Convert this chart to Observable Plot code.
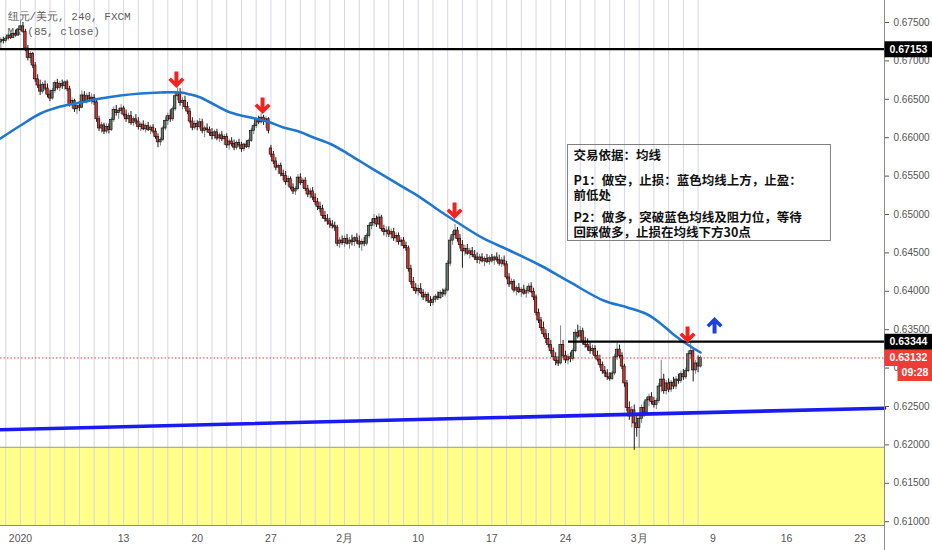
<!DOCTYPE html>
<html><head><meta charset="utf-8">
<script src="https://cdn.jsdelivr.net/npm/d3@7"></script>
<script src="https://cdn.jsdelivr.net/npm/@observablehq/plot@0.6"></script>
<style>
html,body{margin:0;padding:0;background:#fff;}
#chart svg{display:block;}
</style></head><body><div id="chart"></div>
<script>
// ---- 4h candles [open, high, low, close] in units of 0.0001, grouped by week ----
const wk0 = [
[6724,6730,6714,6727],[6727,6731,6722,6726],
[6726,6732,6723,6729],[6729,6735,6726,6733],[6733,6736,6728,6730],[6730,6737,6729,6735],[6735,6740,6731,6733],[6733,6742,6732,6740],
[6740,6753,6738,6745],[6745,6750,6736,6738],[6738,6741,6712,6716],[6716,6720,6700,6704],[6704,6712,6697,6709],[6709,6711,6690,6694],
[6694,6698,6672,6676],[6676,6682,6664,6668],[6668,6675,6655,6660],[6660,6672,6657,6669],[6669,6674,6661,6664],[6664,6670,6652,6656]];
const wk1 = [
[6656,6662,6647,6651],[6651,6664,6649,6661],[6661,6674,6658,6671],[6671,6676,6662,6665],[6665,6673,6660,6670],[6670,6675,6663,6667],
[6667,6674,6662,6672],[6672,6675,6660,6663],[6663,6667,6640,6644],[6644,6652,6638,6648],[6648,6650,6633,6637],[6637,6645,6630,6641],
[6641,6647,6634,6639],[6639,6661,6638,6655],[6655,6660,6645,6648],[6648,6658,6644,6654],[6654,6659,6646,6650],[6650,6657,6643,6652],
[6652,6656,6642,6646],[6646,6650,6620,6624],[6624,6628,6608,6612],[6612,6620,6606,6616],[6616,6619,6604,6608],[6608,6618,6605,6614],
[6614,6618,6605,6610],[6610,6626,6608,6623],[6623,6640,6620,6636],[6636,6642,6628,6632],[6632,6638,6624,6635],[6635,6643,6630,6638]];
const wk2 = [
[6638,6641,6627,6630],[6630,6636,6620,6624],[6624,6632,6618,6628],[6628,6634,6616,6619],[6619,6627,6615,6624],[6624,6630,6617,6621],
[6621,6626,6610,6614],[6614,6620,6608,6617],[6617,6622,6609,6611],[6611,6618,6606,6615],[6615,6620,6608,6610],[6610,6616,6604,6613],
[6613,6617,6605,6608],[6608,6612,6598,6601],[6601,6605,6587,6594],[6594,6600,6589,6597],[6597,6615,6595,6612],[6612,6626,6609,6622],
[6622,6632,6616,6628],[6628,6636,6620,6624],[6624,6640,6621,6637],[6637,6658,6634,6654],[6654,6665,6648,6658],[6658,6664,6641,6645],
[6645,6652,6636,6648],[6648,6654,6637,6640],[6640,6646,6630,6634],[6634,6638,6618,6621],[6621,6626,6609,6613],[6613,6622,6610,6618]];
const wk3 = [
[6618,6622,6609,6614],[6614,6625,6611,6620],[6620,6624,6605,6609],[6609,6615,6600,6612],[6612,6618,6606,6610],[6610,6614,6602,6606],
[6606,6612,6597,6602],[6602,6610,6598,6607],[6607,6611,6596,6599],[6599,6606,6594,6603],[6603,6608,6595,6598],[6598,6604,6590,6601],
[6601,6605,6586,6590],[6590,6598,6584,6595],[6595,6600,6588,6592],[6592,6597,6583,6587],[6587,6596,6584,6593],[6593,6598,6587,6590],
[6590,6594,6581,6585],[6585,6593,6582,6591],[6591,6596,6586,6588],[6588,6598,6585,6596],[6596,6612,6594,6609],[6609,6618,6604,6615],
[6615,6626,6612,6623],[6623,6628,6617,6620],[6620,6631,6618,6626],[6626,6629,6616,6621],[6621,6627,6612,6624],[6624,6626,6605,6609]];
const wk4 = [
[6586,6590,6574,6578],[6578,6582,6565,6569],[6569,6574,6557,6561],[6561,6566,6552,6563],[6563,6567,6549,6553],[6553,6558,6544,6550],
[6550,6556,6538,6542],[6542,6550,6536,6546],[6546,6549,6532,6535],[6535,6540,6526,6530],[6530,6536,6525,6533],[6533,6552,6531,6548],
[6548,6553,6538,6541],[6541,6547,6534,6544],[6544,6548,6530,6533],[6533,6538,6522,6526],[6526,6534,6520,6530],[6530,6535,6518,6522],
[6522,6527,6512,6516],[6516,6521,6505,6510],[6510,6516,6502,6507],[6507,6512,6494,6498],[6498,6504,6490,6494],[6494,6500,6486,6491],
[6491,6495,6482,6487],[6487,6492,6481,6485],[6485,6490,6478,6483],[6483,6486,6458,6462],[6462,6470,6456,6466],[6466,6472,6460,6463]];
const wk5 = [
[6463,6472,6457,6468],[6468,6474,6460,6462],[6462,6470,6455,6466],[6466,6473,6459,6464],[6464,6471,6458,6469],[6469,6475,6461,6465],
[6465,6472,6456,6461],[6461,6468,6452,6464],[6464,6470,6458,6462],[6462,6475,6459,6472],[6472,6488,6469,6485],[6485,6494,6480,6489],
[6489,6500,6484,6494],[6494,6498,6483,6487],[6487,6501,6485,6496],[6496,6499,6478,6481],[6481,6486,6472,6477],[6477,6484,6470,6479],
[6479,6484,6470,6474],[6474,6481,6468,6477],[6477,6482,6465,6469],[6469,6476,6463,6472],[6472,6476,6460,6464],[6464,6470,6458,6466],
[6466,6470,6455,6459],[6459,6464,6452,6456],[6456,6459,6425,6429],[6429,6434,6408,6412],[6412,6418,6400,6404],[6404,6410,6396,6400]];
const wk6 = [
[6400,6408,6394,6403],[6403,6410,6396,6398],[6398,6402,6388,6392],[6392,6399,6386,6395],[6395,6398,6384,6387],[6387,6393,6380,6385],
[6385,6392,6381,6389],[6389,6396,6385,6393],[6393,6399,6388,6391],[6391,6401,6389,6398],[6398,6403,6392,6396],[6396,6404,6393,6401],
[6401,6440,6399,6436],[6436,6470,6432,6466],[6466,6478,6460,6473],[6473,6487,6468,6479],[6479,6483,6464,6468],[6468,6474,6455,6460],
[6460,6466,6430,6452],[6452,6460,6446,6455],[6455,6461,6447,6449],[6449,6456,6442,6452],[6452,6457,6444,6447],[6447,6453,6440,6444],
[6444,6450,6436,6441],[6441,6448,6435,6444],[6444,6449,6437,6439],[6439,6445,6432,6442],[6442,6448,6436,6438],[6438,6446,6434,6443]];
const wk7 = [
[6443,6448,6437,6440],[6440,6446,6434,6444],[6444,6450,6438,6441],[6441,6447,6433,6436],[6436,6444,6431,6440],[6440,6446,6432,6435],
[6435,6439,6415,6418],[6418,6423,6405,6409],[6409,6416,6402,6412],[6412,6415,6398,6401],[6401,6407,6394,6404],[6404,6410,6397,6399],
[6399,6405,6392,6402],[6402,6408,6395,6397],[6397,6404,6391,6400],[6400,6410,6396,6406],[6406,6411,6397,6399],[6399,6404,6388,6392],
[6392,6395,6368,6372],[6372,6377,6358,6362],[6362,6366,6348,6352],[6352,6360,6340,6344],[6344,6350,6332,6338],[6338,6345,6326,6330],
[6330,6336,6318,6322],[6322,6326,6310,6314],[6314,6320,6303,6309],[6309,6315,6302,6306],[6306,6355,6304,6330],[6330,6336,6312,6316]];
const wk8 = [
[6316,6322,6306,6310],[6310,6318,6304,6314],[6314,6320,6307,6312],[6312,6325,6309,6322],[6322,6350,6320,6346],[6346,6356,6338,6341],
[6341,6354,6336,6348],[6348,6352,6330,6334],[6334,6340,6326,6330],[6330,6338,6322,6327],[6327,6333,6318,6322],[6322,6330,6317,6325],
[6325,6329,6312,6316],[6316,6322,6308,6311],[6311,6317,6300,6304],[6304,6308,6292,6296],[6296,6302,6288,6293],[6293,6298,6284,6288],
[6288,6294,6283,6286],[6286,6296,6284,6293],[6293,6318,6290,6314],[6314,6333,6310,6324],[6324,6330,6312,6316],[6316,6320,6298,6302],
[6302,6305,6275,6280],[6280,6284,6243,6248],[6248,6256,6232,6237],[6237,6250,6222,6245],[6245,6252,6193,6228],[6228,6238,6210,6222]];
const wk9 = [
[6222,6240,6196,6234],[6234,6252,6228,6248],[6248,6256,6236,6242],[6242,6262,6238,6258],[6258,6266,6250,6262],[6262,6268,6252,6256],
[6256,6262,6248,6252],[6252,6260,6246,6257],[6257,6280,6254,6276],[6276,6310,6268,6285],[6285,6292,6266,6270],[6270,6284,6265,6280],
[6280,6286,6268,6272],[6272,6284,6268,6281],[6281,6288,6272,6276],[6276,6289,6272,6285],[6285,6292,6279,6283],[6283,6296,6280,6292],
[6292,6298,6284,6288],[6288,6300,6285,6296],[6296,6322,6294,6318],[6318,6334,6312,6322],[6322,6326,6282,6297],[6297,6310,6292,6306],
[6306,6316,6294,6302],[6302,6316,6300,6313.2]];

// MA(85, close): [bar index, price]
const maLine = [[-8.15,0.65990],[0,0.66159],[8.15,0.66315],[16.29,0.66406],[24.44,0.66458],[32.59,0.66510],[40.73,0.66549],[48.88,0.66576],[57.03,0.66589],[65.17,0.66589],[69.25,0.66562],[73.32,0.66523],[77.39,0.66458],[85.54,0.66328],[93.69,0.66263],[100.61,0.66211],[107.13,0.66133],[112.83,0.66087],[119.35,0.66003],[126.27,0.65918],[133.20,0.65794],[138.49,0.65690],[147.86,0.65508],[156.01,0.65352],[161.71,0.65247],[171.08,0.65039],[178.00,0.64896],[188.59,0.64688],[198.37,0.64544],[211.81,0.64336],[224.03,0.64115],[237.47,0.63880],[247.25,0.63789],[255.40,0.63698],[260.69,0.63581],[265.99,0.63438],[271.69,0.63307],[276.99,0.63203]];

// drawings
const levelTop = 0.67153;
const resistance = [{t: 223.2, p: 0.63344}];
const lastPrice = 0.63132;
const trendLine = [{t: -8.15, p: 0.62197}, {t: 351.93, p: 0.62478}];
const zoneTop = 0.61969;
const arrowsDown = [{t: 63.5, p: 0.66758}, {t: 98.6, p: 0.66419}, {t: 176.8, p: 0.65052}, {t: 271.7, p: 0.63438}];
const arrowsUp = [{t: 282.7, p: 0.63555}];
const noteBox = [{t1: 223.0, t2: 330.1, p1: 0.65905, p2: 0.64655}];
const noteLines = [
  {t: 225.3, p: 0.65768, text: "交易依据：均线"},
  {t: 225.3, p: 0.65442, text: "P1：做空，止损：蓝色均线上方，止盈："},
  {t: 225.3, p: 0.65247, text: "前低处"},
  {t: 225.3, p: 0.64953, text: "P2：做多，突破蓝色均线及阻力位，等待"},
  {t: 225.3, p: 0.64758, text: "回踩做多，止损在均线下方30点"}
];
const titleLines = ["纽元/美元, 240, FXCM\nMA (85, close)"];
const priceLabels = [
  {p: 0.67153, label: "0.67153", bg: "#000000"},
  {p: 0.63344, label: "0.63344", bg: "#000000"},
  {p: 0.63132, label: "0.63132", bg: "#f23b36"}
];
const countdown = [{p: 0.63132, label: "09:28"}];

// axes
const yTicks = [0.610,0.615,0.620,0.625,0.630,0.635,0.640,0.645,0.650,0.655,0.660,0.665,0.670,0.675];
const xTicks = [0, 42, 72, 102, 132, 162, 192, 222, 252, 282, 312, 342];
const xTickLabels = ["2020", "13", "20", "27", "2月", "10", "17", "24", "3月", "9", "16", "23"];
const dayStarts = [-6,0,6,12,18,24,30,36,42,48,54,60,66,72,78,84,90,96,102,108,114,120,126,132,138,144,150,156,162,168,174,180,186,192,198,204,210,216,222,228,234,240,246,252,258,264,270,276];
const xDomain = [-8.147, 351.93];
const yDomain = [0.609503, 0.677866];

// ---- build ----
const candles = [wk0, wk1, wk2, wk3, wk4, wk5, wk6, wk7, wk8, wk9].flat()
  .map((d, i) => ({t: i - 8, o: d[0] / 1e4, h: d[1] / 1e4, l: d[2] / 1e4, c: d[3] / 1e4}));
const xLabel = new Map(xTicks.map((t, i) => [t, xTickLabels[i]]));

function poly(pts, flip) {
  return {draw(ctx, size) {
    const s = Math.sqrt(size / Math.PI) / 8;
    pts.forEach(([x, y], i) => {
      const yy = (flip ? -y : y) * s;
      if (i === 0) ctx.moveTo(x * s, yy); else ctx.lineTo(x * s, yy);
    });
    ctx.closePath();
  }};
}
const arrowShape = [[-2,-8],[2,-8],[2,1.5],[5.5,-2],[8,0.5],[0,8.5],[-8,0.5],[-5.5,-2],[-2,1.5]];
const arrowDown = poly(arrowShape, false);
const arrowUp = poly(arrowShape, true);
const boxSymbol = (w, h) => ({draw(ctx) { ctx.rect(-w / 2, -h / 2, w, h); }});
const M = {marginTop: 0, marginRight: 48, marginBottom: 25, marginLeft: 0};

const chart = Plot.plot({
  width: 932, height: 550,
  ...M,
  x: {domain: xDomain},
  y: {domain: yDomain},
  style: {background: "#fff", fontFamily: "'Liberation Sans', Arial, sans-serif", fontSize: "10px", overflow: "visible"},
  marks: [
    Plot.rect([{a: xDomain[0], b: xDomain[1], c: yDomain[0], d: zoneTop}], {x1: "a", x2: "b", y1: "c", y2: "d", fill: "#ffff8a"}),
    Plot.gridX({ticks: dayStarts, stroke: "#d6d6e6", strokeOpacity: 1, strokeWidth: 1, ...M}),
    Plot.ruleY([zoneTop], {stroke: "#9a9a9a", strokeWidth: 1}),
    Plot.text(titleLines, {frameAnchor: "top-left", dx: 7, dy: 8.5, fontFamily: "'Liberation Mono', 'DejaVu Sans Mono', monospace", fontSize: 11, fill: "#5c5c5c", lineHeight: 1.4}),
    Plot.ruleX(candles, {x: "t", y1: "l", y2: "h", stroke: d => d.c >= d.o ? "#808080" : "#1c1c1c", strokeWidth: 1}),
    Plot.rect(candles, {x1: d => d.t - 0.5, x2: d => d.t + 0.5, y1: "o", y2: "c", fill: d => d.c >= d.o ? "#687868" : "#dd302b", stroke: "#151515", strokeWidth: 0.7}),
    Plot.line(maLine, {x: d => d[0], y: d => d[1], stroke: "#1f77d0", strokeWidth: 2.6, curve: "catmull-rom"}),
    Plot.ruleY([levelTop], {stroke: "#000", strokeWidth: 2.2}),
    Plot.ruleY(resistance, {y: "p", x1: "t", x2: () => xDomain[1], stroke: "#000", strokeWidth: 2.2}),
    Plot.ruleY([lastPrice], {stroke: "#f23b36", strokeWidth: 1, strokeDasharray: "1.5,2"}),
    Plot.line(trendLine, {x: "t", y: "p", stroke: "#1a1af2", strokeWidth: 3.6}),
    Plot.dot(arrowsDown, {x: "t", y: "p", r: 8, symbol: arrowDown, fill: "#f4211c", stroke: "none"}),
    Plot.dot(arrowsUp, {x: "t", y: "p", r: 8, symbol: arrowUp, fill: "#1b3fe0", stroke: "none"}),
    Plot.rect(noteBox, {x1: "t1", x2: "t2", y1: "p1", y2: "p2", fill: "none", stroke: "#808080", strokeWidth: 1}),
    Plot.text(noteLines, {x: "t", y: "p", text: "text", textAnchor: "start", fontFamily: "'Noto Sans CJK SC', sans-serif", fontSize: 12.5, fontWeight: "bold", fill: "#111", letterSpacing: "0.9px"}),
    Plot.axisY({anchor: "right", ticks: yTicks, tickFormat: d3.format(".5f"), tickSize: 4, tickPadding: 5, fontSize: 10, color: "#555", label: null, ...M}),
    Plot.axisX({ticks: xTicks, tickFormat: d => xLabel.get(d), tickSize: 0, tickPadding: 9, fontSize: 10.5, color: "#555", label: null, ...M}),
    Plot.ruleY([yDomain[0]], {stroke: "#8c8c8c", strokeWidth: 1}),
    Plot.ruleX([xDomain[1]], {stroke: "#8c8c8c", strokeWidth: 1, insetBottom: -25}),
    Plot.dot(priceLabels, {y: "p", frameAnchor: "right", dx: 24, r: 8, symbol: boxSymbol(48, 16), fill: "bg", stroke: "none"}),
    Plot.text(priceLabels, {y: "p", text: "label", frameAnchor: "right", dx: 5, textAnchor: "start", fill: "#fff", fontWeight: "bold", fontSize: 10.5}),
    Plot.dot(countdown, {y: "p", frameAnchor: "right", dx: 30.5, dy: 15, r: 8, symbol: boxSymbol(35, 16), fill: "#f23b36", stroke: "none"}),
    Plot.text(countdown, {y: "p", text: "label", frameAnchor: "right", dx: 30.5, dy: 15, textAnchor: "middle", fill: "#fff", fontWeight: "bold", fontSize: 10.5})
  ]
});
document.getElementById("chart").appendChild(chart);
</script></body></html>
